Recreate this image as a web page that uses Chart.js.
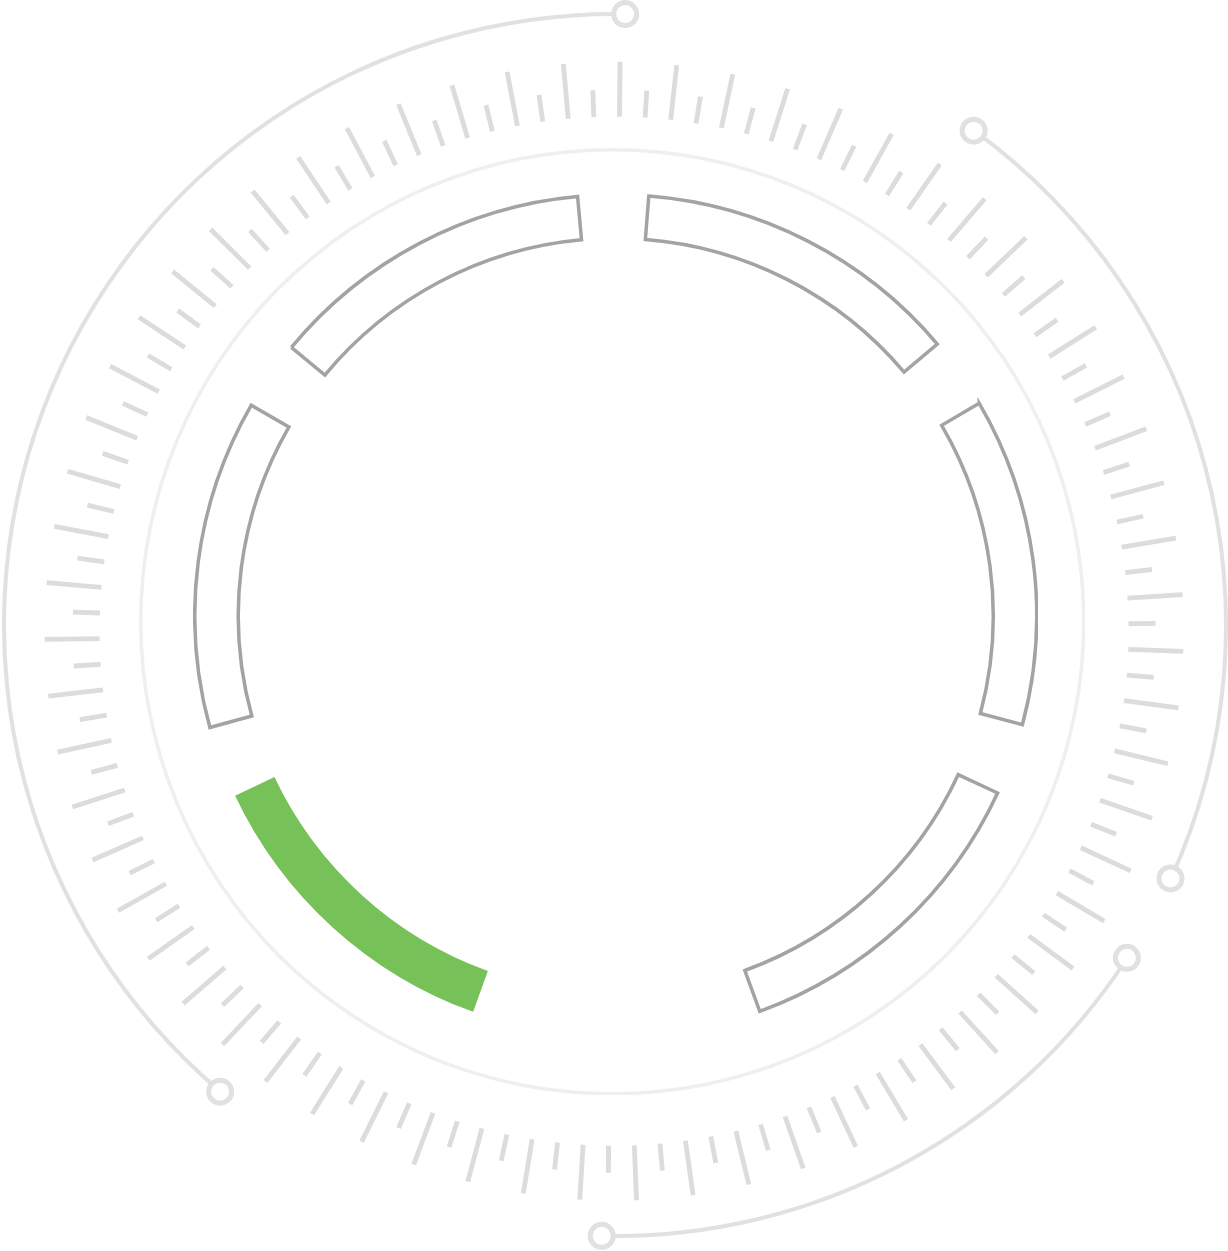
<!DOCTYPE html>
<html>
<head>
<meta charset="utf-8">
<title>Ring gauge</title>
<script src="https://cdn.jsdelivr.net/npm/chart.js@4.4.1/dist/chart.umd.min.js"></script>
<style>
  html, body { margin: 0; padding: 0; background: #fff; }
  body { width: 1228px; height: 1251px; position: relative; overflow: hidden; }
  .layer { position: absolute; }
</style>
</head>
<body>
<div class="layer" id="outerBox"><canvas id="outerArcs"></canvas></div>
<div class="layer" id="guideBox"><canvas id="guideRing"></canvas></div>
<div class="layer" id="segBox"><canvas id="segments"></canvas></div>
<div class="layer" id="tickBox"><canvas id="ticks"></canvas></div>
<script>
// ring segments, degrees clockwise from 12 o'clock
const SEGMENT_LABELS = ["Segment 1", "Segment 2", "Segment 3", "Segment 4", "Segment 5", "Segment 6"];
const SEGMENT_SPANS = [45.3, 45.3, 45.1, 44.9, 45.4, 45.2];
const SEGMENT_GAPS = [9.9, 9.9, 39.8, 9.9, 9.6, 9.7];
const SEGMENT_START = 4.5;
const ACTIVE_SEGMENT = 3;

// outer arcs (each one ends in a small ring)
const OUTER_ARC_STARTS = [36.0, 123.0, 220.2];
const OUTER_ARC_ENDS = [114.5, 181.2, 361.0];

// dial ticks, length in px, clockwise from the top
const TICK_LENGTHS = [
  55, 27, 55, 27, 55, 27, 55, 27, 55, 27, 55, 27, 55, 27,
  55, 27, 55, 27, 55, 27, 55, 27, 55, 27, 55, 27, 55, 27,
  55, 27, 55, 27, 55, 27, 55, 27, 55, 27, 55, 27, 55, 27,
  55, 27, 55, 27, 55, 27, 55, 27, 55, 27, 55, 27, 55, 27,
  55, 27, 55, 27, 55, 27, 55, 27, 55, 27, 55, 27, 55, 27,
  55, 27, 55, 27, 55, 27, 55, 27, 55, 27, 55, 27, 55, 27,
  55, 27, 55, 27, 55, 27, 55, 27, 55, 27, 55, 27, 55, 27,
  55, 27, 55, 27, 55, 27, 55, 27, 55, 27, 55, 27, 55, 27,
  55, 27, 55, 27, 55, 27, 55, 27, 55, 27, 55, 27, 55, 27
];

const W = 1228, H = 1251;
const GREEN = "#77c159";
const OUTLINE = "#a3a3a3";
const ARC_COLOR = "#e1e1e1";
const TICK_COLOR = "#dcdcdc";
const GUIDE_COLOR = "#efefef";
const CLEAR = "rgba(0,0,0,0)";

function placeBox(id, left, top, w, h) {
  const el = document.getElementById(id);
  el.style.left = left + "px";
  el.style.top = top + "px";
  el.style.width = w + "px";
  el.style.height = h + "px";
}

function polar(cx, cy, r, deg) {
  const a = deg * Math.PI / 180;
  return { x: cx + r * Math.sin(a), y: cy - r * Math.cos(a) };
}

const baseOptions = {
  responsive: true,
  maintainAspectRatio: false,
  animation: false,
  events: [],
  layout: { padding: 0, autoPadding: false },
  plugins: { legend: { display: false }, tooltip: { enabled: false } }
};

// --- outer arcs ---
const ARC_CX = 614.5, ARC_CY = 625, ARC_R = 611, ARC_W = 4;
const arcSize = 2 * (ARC_R + ARC_W / 2);
placeBox("outerBox", ARC_CX - arcSize / 2, ARC_CY - arcSize / 2, arcSize, arcSize);

const arcRotation = OUTER_ARC_ENDS[OUTER_ARC_ENDS.length - 1] - 360;
const arcData = [], arcColors = [];
let cursor = arcRotation;
OUTER_ARC_STARTS.forEach((s, i) => {
  arcData.push(s - cursor); arcColors.push(CLEAR);
  arcData.push(OUTER_ARC_ENDS[i] - s); arcColors.push(ARC_COLOR);
  cursor = OUTER_ARC_ENDS[i];
});

new Chart(document.getElementById("outerArcs"), {
  type: "doughnut",
  data: {
    labels: arcData.map((_, i) => "arc " + i),
    datasets: [{ data: arcData, backgroundColor: arcColors, borderWidth: 0, hoverBorderWidth: 0 }]
  },
  options: Object.assign({}, baseOptions, {
    rotation: arcRotation,
    cutout: ((ARC_R - ARC_W / 2) / (ARC_R + ARC_W / 2) * 100) + "%"
  })
});

// --- thin guide circle ---
const GUIDE_CX = 611.75, GUIDE_CY = 621.5, GUIDE_R = 471.5, GUIDE_W = 3.5;
const guideSize = 2 * (GUIDE_R + GUIDE_W / 2);
placeBox("guideBox", GUIDE_CX - guideSize / 2, GUIDE_CY - guideSize / 2, guideSize, guideSize);

new Chart(document.getElementById("guideRing"), {
  type: "doughnut",
  data: {
    labels: ["guide"],
    datasets: [{ data: [1], backgroundColor: [GUIDE_COLOR], borderWidth: 0, hoverBorderWidth: 0 }]
  },
  options: Object.assign({}, baseOptions, {
    cutout: ((GUIDE_R - GUIDE_W / 2) / (GUIDE_R + GUIDE_W / 2) * 100) + "%"
  })
});

// --- main segments ---
const SEG_CX = 615.65, SEG_CY = 615.5, SEG_R_OUT = 421, SEG_R_IN = 377.5, SEG_BORDER = 3.5;
const segSize = 2 * SEG_R_OUT + SEG_BORDER;
placeBox("segBox", SEG_CX - segSize / 2, SEG_CY - segSize / 2, segSize, segSize);

const segLabels = [], segData = [], segFill = [], segBorderW = [];
SEGMENT_SPANS.forEach((v, i) => {
  const active = i === ACTIVE_SEGMENT;
  segLabels.push(SEGMENT_LABELS[i]); segData.push(v);
  segFill.push(active ? GREEN : "#ffffff"); segBorderW.push(active ? 0 : SEG_BORDER);
  segLabels.push(""); segData.push(SEGMENT_GAPS[i]);
  segFill.push(CLEAR); segBorderW.push(0);
});

new Chart(document.getElementById("segments"), {
  type: "doughnut",
  data: {
    labels: segLabels,
    datasets: [{
      data: segData,
      backgroundColor: segFill,
      borderColor: OUTLINE,
      borderWidth: segBorderW,
      hoverBorderWidth: segBorderW,
      borderJoinStyle: "miter"
    }]
  },
  options: Object.assign({}, baseOptions, {
    rotation: SEGMENT_START,
    cutout: (SEG_R_IN / SEG_R_OUT * 100) + "%"
  })
});

// --- ticks + arc end rings ---
const TICK_CX = 614.1, TICK_CY = 631.2, TICK_R_IN = 514.5, TICK_OFFSET = 0.6;
placeBox("tickBox", 0, 0, W, H);

const tickPoints = [];
TICK_LENGTHS.forEach((len, i) => {
  const deg = TICK_OFFSET + i * 360 / TICK_LENGTHS.length;
  const a = polar(TICK_CX, TICK_CY, TICK_R_IN, deg);
  const b = polar(TICK_CX, TICK_CY, TICK_R_IN + len, deg);
  tickPoints.push(a, b, { x: b.x, y: null });
});

const dotPoints = [];
OUTER_ARC_STARTS.forEach((s, i) => {
  dotPoints.push(polar(ARC_CX, ARC_CY, ARC_R, s));
  dotPoints.push(polar(ARC_CX, ARC_CY, ARC_R, OUTER_ARC_ENDS[i]));
});

new Chart(document.getElementById("ticks"), {
  type: "scatter",
  data: {
    datasets: [
      {
        label: "ends",
        data: dotPoints,
        pointStyle: "circle",
        pointRadius: 11.5,
        pointBorderWidth: 5,
        pointBackgroundColor: "#ffffff",
        pointBorderColor: ARC_COLOR,
        clip: false
      },
      {
        label: "ticks",
        data: tickPoints,
        showLine: true,
        spanGaps: false,
        borderColor: TICK_COLOR,
        borderWidth: 4.8,
        borderCapStyle: "butt",
        pointRadius: 0,
        clip: false
      }
    ]
  },
  options: Object.assign({}, baseOptions, {
    scales: {
      x: { type: "linear", min: 0, max: W, display: false },
      y: { type: "linear", min: 0, max: H, reverse: true, display: false }
    }
  })
});
</script>
</body>
</html>
